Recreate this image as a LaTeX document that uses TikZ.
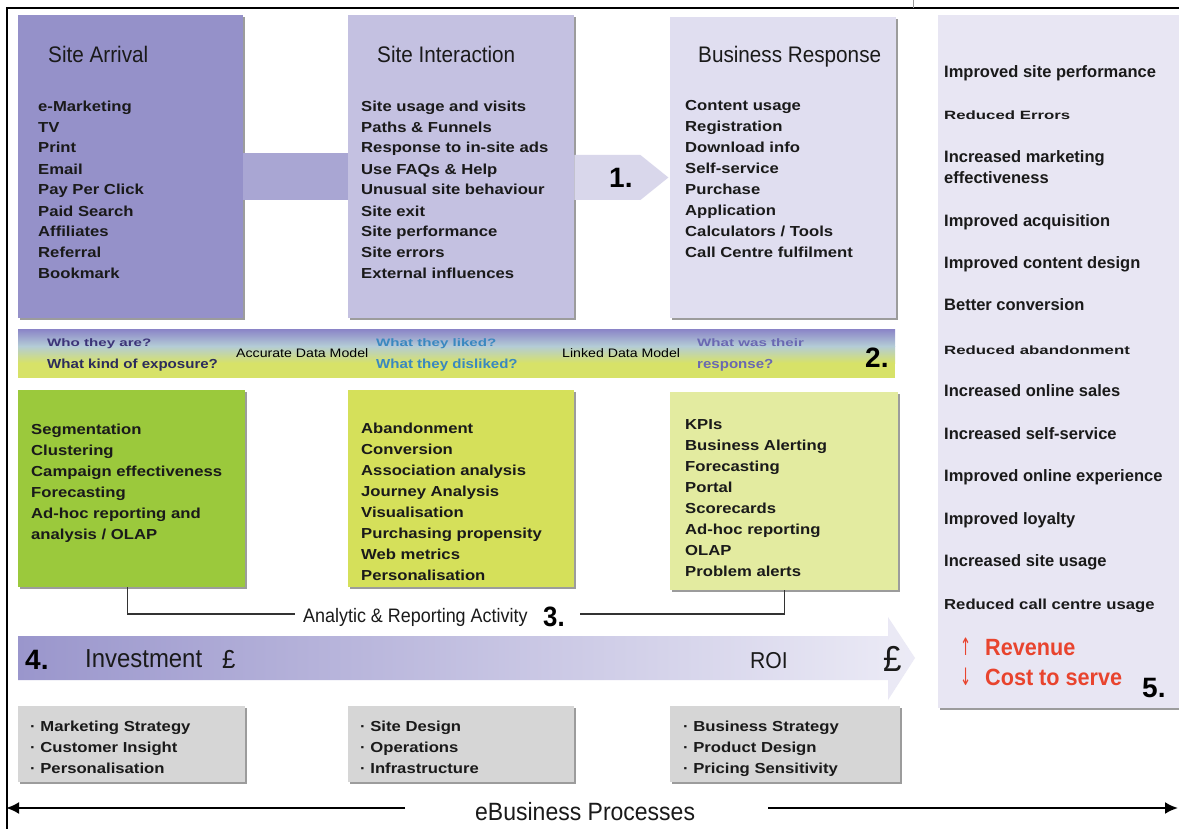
\documentclass[tikz,border=0pt]{standalone}
\usepackage{fontspec}
\setmainfont{Liberation Sans}
\newfontfamily\nx{Liberation Sans}[FakeStretch=0.92]
\newfontfamily\bx{Liberation Sans}[FakeStretch=1.15]
\newfontfamily\wx{Liberation Sans}[FakeStretch=1.4]
\newfontfamily\djn{DejaVu Sans}[FakeStretch=0.55]
\usetikzlibrary{shadows,arrows.meta,calc}
\newcommand\myfs[2]{\fontsize{#1pt}{#2pt}\selectfont}
\definecolor{cSA}{HTML}{9591C9}
\definecolor{cSI}{HTML}{C4C1E1}
\definecolor{cBR}{HTML}{E0DEF0}
\definecolor{cBand}{HTML}{A9A6D3}
\definecolor{cArr}{HTML}{D9D7EB}
\definecolor{cGa}{HTML}{9BC93C}
\definecolor{cGb}{HTML}{D5E05A}
\definecolor{cGc}{HTML}{E3EBA0}
\definecolor{cGray}{HTML}{D6D6D6}
\definecolor{cRC}{HTML}{E8E6F3}
\definecolor{bTop}{HTML}{8C88C8}
\definecolor{bMid}{HTML}{B4CCD6}
\definecolor{bBot}{HTML}{D7E268}
\definecolor{qa}{HTML}{3C3478}
\definecolor{qb}{HTML}{2C2C5C}
\definecolor{qc}{HTML}{3A88C0}
\definecolor{qd}{HTML}{6A68B2}
\definecolor{aL}{HTML}{9A96CC}
\definecolor{aR}{HTML}{ECEBF6}
\definecolor{rev}{HTML}{E8442E}
\definecolor{txt}{HTML}{1A1A1A}
\begin{document}
\begin{tikzpicture}[x=1pt, y=-1pt,
  box/.style={draw=none, inner sep=0, anchor=north west,
    drop shadow={shadow xshift=1.5pt, shadow yshift=-1.5pt, fill=black!55, opacity=0.7}},
  title/.style={anchor=base west, inner sep=0, font=\nx\myfs{22.5}{26}, text=txt},
  item/.style={anchor=base west, inner sep=0, align=left, font=\bx\bfseries\myfs{14.5}{21}, text=txt},
  ritem/.style={anchor=base west, inner sep=0, align=left, font=\bfseries\myfs{16.5}{21}, text=txt},
  witem/.style={anchor=base west, inner sep=0, font=\wx\bfseries\myfs{12}{14}, text=txt},
  qsmall/.style={anchor=base west, inner sep=0, font=\wx\bfseries\myfs{10.8}{12}},
  qbig/.style={anchor=base west, inner sep=0, font=\bx\bfseries\myfs{13.1}{15}},
  model/.style={anchor=base west, inner sep=0, font=\bx\myfs{12.3}{14}, text=black},
  num/.style={anchor=base west, inner sep=0, font=\bfseries\myfs{28}{30}, text=black},
  narrow/.style={anchor=base west, inner sep=0, font=\nx\myfs{#1}{#1}, text=txt},
  redtxt/.style={anchor=base west, inner sep=0, font=\nx\bfseries\myfs{23.5}{26}, text=rev},
  ebline/.style={line width=2.2pt, -{Latex[length=13pt,width=12pt]}},
  bracket/.style={line width=1.4pt, draw=black!80}
]
\useasboundingbox (0,0) rectangle (1179,829);
\fill[white] (0,0) rectangle (1179,829);

% frame
\draw[line width=2.5pt] (7,829) -- (7,8) -- (1179,8);
\draw[black!40, line width=0.8pt] (913,0) -- (913,8);

% right column
\node[box, fill=cRC, minimum width=250, minimum height=693] (rc) at (938,15) {};

% top row
\node[box, fill=cSA, minimum width=225, minimum height=303] (sa) at (18,15) {};
\node[box, fill=cSI, minimum width=226, minimum height=303] (si) at (348,15) {};
\node[box, fill=cBR, minimum width=226, minimum height=301] (br) at (670,17) {};
\fill[cBand] ($(sa.north east)+(0,138)$) rectangle ($(si.north west)+(0,185)$);
\coordinate (aone) at ($(si.north east)+(0,140)$);
\fill[cArr] (aone) -- ++(66,0) -- ++(28,22.5) -- ++(-28,22.5) -- ++(-66,0) -- cycle;
\node[num] (n1) at (609,188) {1.};

\node[title] (tsa) at (48,63) {Site Arrival};
\node[title] (tsi) at (377,63) {Site Interaction};
\node[title] (tbr) at (698,63) {Business Response};
% multi-line nodes are anchored at the baseline of their last line
\node[item] (isa) at (38,279) {e-Marketing\\TV\\Print\\Email\\Pay Per Click\\Paid Search\\Affiliates\\Referral\\Bookmark};
\node[item] (isi) at (361,279) {Site usage and visits\\Paths \& Funnels\\Response to in-site ads\\Use FAQs \& Help\\Unusual site behaviour\\Site exit\\Site performance\\Site errors\\External influences};
\node[item] (ibr) at (685,258) {Content usage\\Registration\\Download info\\Self-service\\Purchase\\Application\\Calculators / Tools\\Call Centre fulfilment};

% band row 2
\fill[bBot] (18,330) rectangle (895,378);
\shade[top color=bTop, bottom color=bMid] (18,330) rectangle (895,346);
\shade[top color=bMid, bottom color=bBot] (18,346) rectangle (895,363);
\node[qsmall, text=qa] (qa1) at (47,347) {Who they are?};
\node[qbig, text=qb] (qa2) at (47,368) {What kind of exposure?};
\node[model] (m1) at (236,357) {Accurate Data Model};
\node[qsmall, text=qc] (qc1) at (376,347) {What they liked?};
\node[qbig, text=qc] (qc2) at (376,368) {What they disliked?};
\node[model] (m2) at (562,357) {Linked Data Model};
\node[qsmall, text=qd] (qd1) at (697,347) {What was their};
\node[qbig, text=qd] (qd2) at (697,368) {response?};
\node[num] (n2) at (865,367) {2.};

% row 3
\node[box, fill=cGa, minimum width=227, minimum height=197] (ga) at (18,390) {};
\node[box, fill=cGb, minimum width=226, minimum height=197] (gb) at (348,390) {};
\node[box, fill=cGc, minimum width=228, minimum height=198] (gc) at (670,392) {};
\node[item] (iga) at (31,539) {Segmentation\\Clustering\\Campaign effectiveness\\Forecasting\\Ad-hoc reporting and\\analysis / OLAP};
\node[item] (igb) at (361,580) {Abandonment\\Conversion\\Association analysis\\Journey Analysis\\Visualisation\\Purchasing propensity\\Web metrics\\Personalisation};
\node[item] (igc) at (685,576) {KPIs\\Business Alerting\\Forecasting\\Portal\\Scorecards\\Ad-hoc reporting\\OLAP\\Problem alerts};

% bracket
\node[narrow=19.5] (arl) at (303,622) {Analytic \& Reporting Activity};
\node[anchor=base west, inner sep=0, font=\nx\bfseries\myfs{28}{30}] (n3) at (543,626) {3.};
\coordinate (bl) at (295,614);
\coordinate (brr) at (580,614);
\draw[bracket] ([xshift=-4pt]ga.south) |- (bl);
\draw[bracket] (gc.south) |- (brr);

% investment arrow
\shade[left color=aL, right color=aR] (18,636) -- (888,636) -- (888,617) -- (915,658) -- (888,700) -- (888,680) -- (18,680) -- cycle;
\node[num] (n4) at (25,669) {4.};
\node[narrow=26] (inv) at (85,667) {Investment};
\node[narrow=26] (pl) at (222,668) {£};
\node[narrow=23] (roi) at (750,668) {ROI};
\node[narrow=36] (pr) at (883,671) {£};

% bottom gray boxes
\node[box, fill=cGray, minimum width=227, minimum height=76] (ka) at (18,706) {};
\node[box, fill=cGray, minimum width=226, minimum height=76] (kb) at (348,706) {};
\node[box, fill=cGray, minimum width=230, minimum height=76] (kc) at (670,706) {};
\node[item] (ika) at (30,773) {· Marketing Strategy\\· Customer Insight\\· Personalisation};
\node[item] (ikb) at (360,773) {· Site Design\\· Operations\\· Infrastructure};
\node[item] (ikc) at (683,773) {· Business Strategy\\· Product Design\\· Pricing Sensitivity};

% right column text
\node[ritem] (r1) at (944,78) {Improved site performance};
\node[witem] (r2) at (944,120) {Reduced Errors};
\node[ritem] (r3) at (944,184) {Increased marketing\\effectiveness};
\node[ritem] (r4) at (944,227) {Improved acquisition};
\node[ritem] (r5) at (944,269) {Improved content design};
\node[ritem] (r6) at (944,311) {Better conversion};
\node[witem] (r7) at (944,354) {Reduced abandonment};
\node[ritem] (r8) at (944,396) {Increased online sales};
\node[ritem] (r9) at (944,439) {Increased self-service};
\node[ritem] (r10) at (944,481) {Improved online experience};
\node[ritem] (r11) at (944,524) {Improved loyalty};
\node[ritem] (r12) at (944,566) {Increased site usage};
\node[item] (r13) at (944,609) {Reduced call centre usage};
\node[anchor=base west, inner sep=0, font=\djn\myfs{24}{24}, text=rev] (up) at (960,655) {↑};
\node[redtxt] (rv) at (985,655) {Revenue};
\node[anchor=base west, inner sep=0, font=\djn\myfs{24}{24}, text=rev] (dn) at (960,685) {↓};
\node[redtxt] (cs) at (985,685) {Cost to serve};
\node[num] (n5) at (1142,697) {5.};

% eBusiness processes
\node[narrow=25] (eb) at (475,820) {eBusiness Processes};
\coordinate (ebl) at (405,808);
\coordinate (ebr) at (768,808);
\coordinate (tipl) at (6,808);
\coordinate (tipr) at (1178,808);
\draw[ebline] (ebl) -- (tipl);
\draw[ebline] (ebr) -- (tipr);
\end{tikzpicture}
\end{document}
